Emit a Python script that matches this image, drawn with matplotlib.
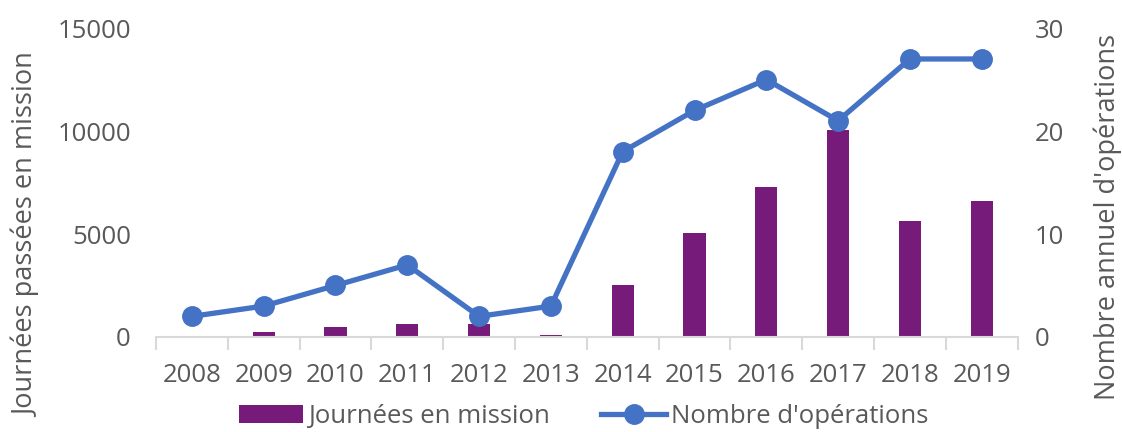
import matplotlib
matplotlib.use("Agg")
import matplotlib.pyplot as plt
import numpy as np

years = ["2008", "2009", "2010", "2011", "2012", "2013",
         "2014", "2015", "2016", "2017", "2018", "2019"]
journees = [0, 250, 480, 640, 640, 90, 2540, 5030, 7300, 10050, 5650, 6620]
operations = [2, 3, 5, 7, 2, 3, 18, 22, 25, 21, 27, 27]

BAR_COLOR = "#771B7A"
LINE_COLOR = "#4472C4"
TEXT_COLOR = "#595959"
AXIS_COLOR = "#D9D9D9"
FS = 18.5

plt.rcParams["font.family"] = ["Open Sans", "DejaVu Sans"]

fig = plt.figure(figsize=(11.22, 4.32), dpi=100)
ax = fig.add_axes([0.139, 0.22, 0.768, 0.715])
ax2 = ax.twinx()

x = np.arange(len(years))
ax.bar(x, journees, width=0.31, color=BAR_COLOR, label="Journées en mission", zorder=2)
ax2.plot(x, operations, color=LINE_COLOR, lw=3.8, marker="o", markersize=14,
         label="Nombre d'opérations", zorder=3)

ax.set_xlim(-0.5, len(years) - 0.5)
ax.set_ylim(0, 15000)
ax2.set_ylim(0, 30)
ax.set_yticks([0, 5000, 10000, 15000])
ax2.set_yticks([0, 10, 20, 30])

# category labels centred, tick marks at the boundaries
ax.set_xticks(x)
ax.set_xticklabels(years)
ax.set_xticks(np.arange(-0.5, len(years)), minor=True)
ax.tick_params(axis="x", which="major", length=0, pad=19, labelsize=FS, labelcolor=TEXT_COLOR)
ax.tick_params(axis="x", which="minor", length=9, width=1.5, color=AXIS_COLOR)
ax.tick_params(axis="y", length=0, pad=18, labelsize=FS, labelcolor=TEXT_COLOR)
ax2.tick_params(axis="y", length=0, pad=12, labelsize=FS, labelcolor=TEXT_COLOR)

for a in (ax, ax2):
    for s in ("top", "left", "right", "bottom"):
        a.spines[s].set_visible(False)
ax.spines["bottom"].set_visible(True)
ax.spines["bottom"].set_color(AXIS_COLOR)
ax.spines["bottom"].set_linewidth(1.5)

ax.set_ylabel("Journées passées en mission", fontsize=19.5, color=TEXT_COLOR)
ax2.set_ylabel("Nombre annuel d'opérations", fontsize=19.5, color=TEXT_COLOR)
ax.yaxis.set_label_coords(-0.133, 0.33)
ax2.yaxis.set_label_coords(1.088, 0.39)

h1, l1 = ax.get_legend_handles_labels()
h2, l2 = ax2.get_legend_handles_labels()
fig.legend(h1 + h2, l1 + l2, loc="lower center", bbox_to_anchor=(0.52, -0.047),
           ncol=2, frameon=False, fontsize=FS, labelcolor=TEXT_COLOR,
           handlelength=2.5, handletextpad=0.2, columnspacing=2.0)

fig.savefig("out.png", dpi=100)
